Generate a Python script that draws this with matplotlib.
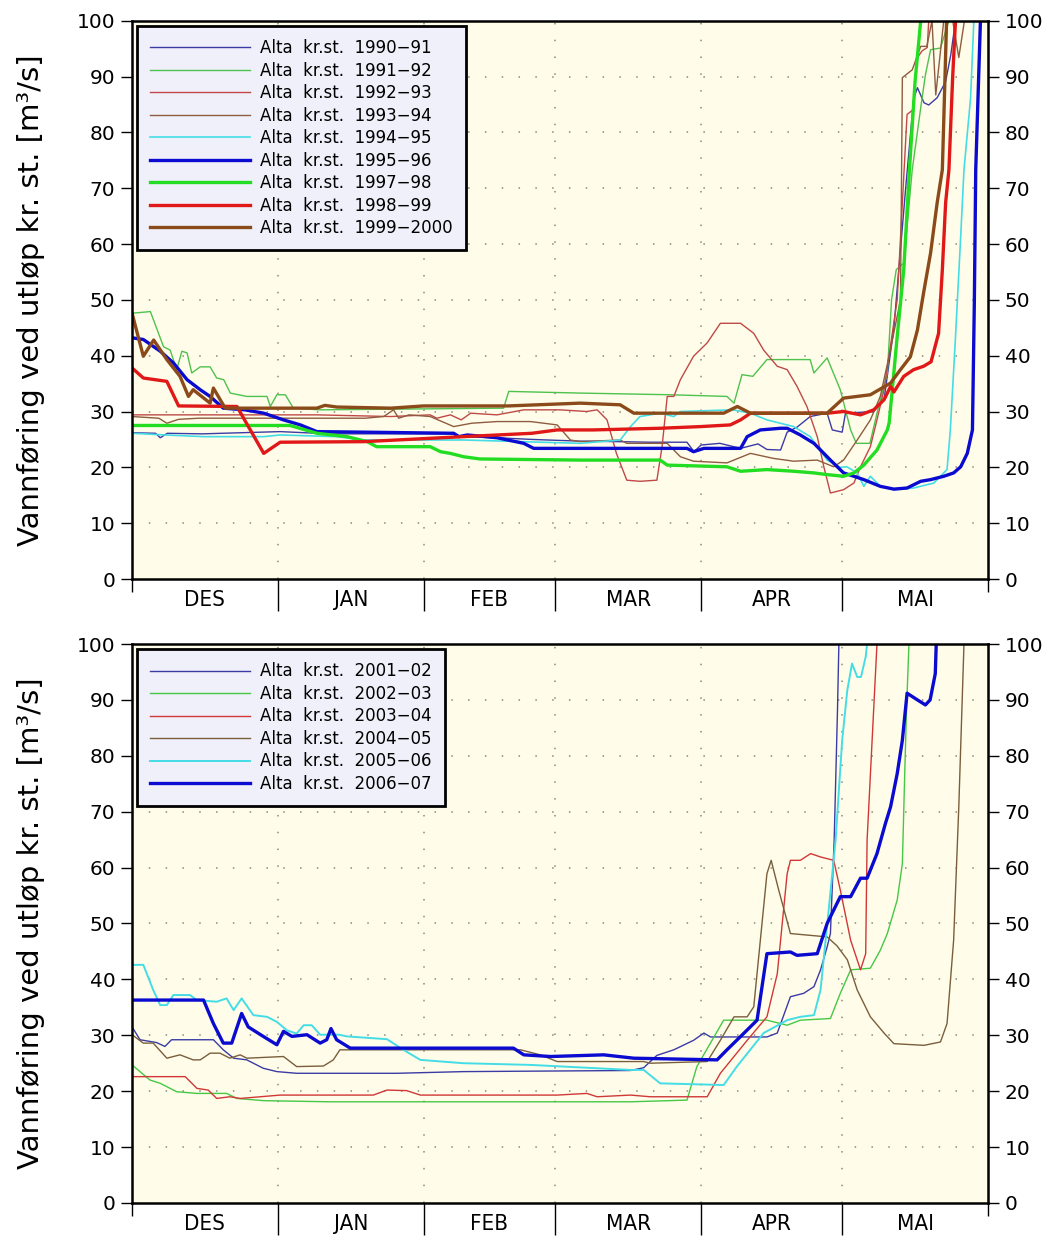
import numpy as np
import matplotlib.pyplot as plt
from matplotlib.ticker import FixedLocator, NullFormatter

# days counted from 1 December, 182 days to 1 June
month_edges = [0, 31, 62, 90, 121, 151, 182]
month_names = ["DES", "JAN", "FEB", "MAR", "APR", "MAI"]
yticks = [0, 10, 20, 30, 40, 50, 60, 70, 80, 90, 100]
ylabel = "Vannføring ved utløp kr. st. [m³/s]"

# ---- upper panel: 1990-2000 ----
d9091 = [0, 5, 6, 7.5, 15, 31.5, 42, 68.4, 70, 77.6, 85, 95, 103.8, 110, 118, 119.5, 121, 125, 129.4, 133.1,
         135, 137.9, 139.3, 141.4, 144.2, 147.8, 148.9, 151, 151.7, 157.7, 159.9, 162, 164.5, 166.2, 167,
         168.4, 169.4, 171.2, 173, 174.1, 175.1]
v9091 = [26.2, 26.1, 25.3, 26.1, 26.0, 26.4, 26.0, 26.0, 25.5, 25.3, 25.0, 24.7, 24.6, 24.5, 24.5, 22.8, 24.0,
         24.3, 23.4, 24.2, 23.2, 23.1, 26.3, 27.2, 29.1, 29.7, 26.7, 26.3, 29.7, 30.0, 32.1, 45, 70, 86, 88,
         85.3, 84.9, 86.2, 89.1, 93.9, 100]

d9192 = [0, 3.9, 6.7, 8.1, 9.5, 10.6, 11.7, 12.7, 14.5, 16.6, 18, 19.5, 20.9, 24.4, 28.7, 29.4, 30.8, 32.6,
         34.3, 40, 79, 80.1, 95.3, 114.5, 126.5, 128, 129.7, 132, 135, 144.2, 145, 147.8, 150.6, 152.8, 154,
         156.9, 158.4, 160.6, 161.5, 162.5, 164.1, 165.9, 167.7, 168.7, 169.8, 171.9, 173.7]
v9192 = [47.6, 47.9, 41.6, 41.0, 37.5, 40.8, 40.5, 36.9, 38.0, 38.0, 36.0, 35.7, 33.3, 32.7, 32.7, 30.9, 33.0,
         33.0, 30.6, 30.3, 30.6, 33.6, 33.3, 33.0, 32.7, 31.5, 36.6, 36.3, 39.3, 39.3, 36.9, 39.6, 33.9, 26.7,
         24.3, 24.3, 29.7, 36.9, 50, 55.4, 56.6, 73.3, 84.4, 90.3, 94.8, 95.1, 100]

d9293 = [0, 39.3, 55, 63.4, 64.8, 67.7, 70, 72, 77.6, 83.3, 91, 96.7, 98.9, 101, 103, 105.2, 108, 111.6, 112.7,
         113.8, 115.2, 116.6, 119.4, 122.3, 125.1, 129.4, 132.2, 134.3, 137.2, 139.3, 141.4, 143.5, 145.7,
         147.1, 148.5, 151.3, 153.5, 154.9, 157, 158.4, 159.9, 162.7, 164.8, 166, 167, 168, 169.1, 169.4]
v9293 = [29.4, 29.4, 29.1, 29.4, 28.8, 29.4, 28.5, 29.7, 29.4, 30.3, 30.3, 30.0, 30.3, 28.5, 22.5, 17.7, 17.5,
         17.7, 23.7, 32.7, 32.7, 35.7, 39.9, 42.3, 45.8, 45.8, 44.0, 41.0, 38.1, 37.5, 34.5, 30.9, 25.5, 20.1,
         15.4, 16.0, 17.2, 20.1, 23.7, 28.5, 33.9, 50, 83.2, 84, 93.4, 94.6, 95.2, 100]

d9394 = [0, 5.7, 7.4, 9.9, 14.2, 49.6, 53.5, 55.6, 56.7, 58.9, 63.4, 68.4, 72.2, 77.6, 84.7, 90.4, 93.2, 95.3,
         103.8, 105.2, 113.8, 116.6, 119.4, 126.5, 131.5, 136.4, 140.7, 145.7, 149.2, 151.3, 154.2, 157, 159.1,
         161, 163.4, 163.8, 165.9, 167.7, 169, 170.1, 170.9, 172.6, 174.5, 175.8, 177]
v9394 = [29.1, 28.8, 27.9, 28.6, 28.8, 28.8, 29.1, 30.3, 28.8, 29.4, 29.1, 27.3, 27.9, 28.2, 28.2, 27.6, 24.9,
         24.6, 24.9, 24.3, 24.3, 21.9, 21.1, 20.8, 22.5, 21.6, 21.1, 21.3, 20.1, 21.3, 24.9, 28.5, 32.7, 40, 50,
         89.8, 91.2, 95.4, 95.4, 100, 86.7, 100, 100, 93.4, 100]

d9495 = [0, 7, 15.2, 28, 31.5, 43.5, 49.2, 70.5, 95.3, 103.8, 106, 108, 112.3, 115.2, 116.6, 127.8, 131.5, 135,
         140.7, 144.2, 147.8, 150.6, 152, 154.2, 155.6, 157, 159.1, 162, 166.2, 170.5, 173.3, 174, 175.1, 176.2,
         176.9, 178.3, 179]
v9495 = [26.1, 25.8, 25.5, 25.5, 25.8, 25.5, 24.9, 24.9, 24.3, 24.9, 27.3, 29.1, 29.7, 29.1, 30.0, 30.3, 29.7,
         28.5, 27.3, 25.5, 21.3, 20.0, 20.1, 19.0, 16.6, 18.4, 16.6, 16.0, 16.3, 17.2, 19.6, 26.7, 43.4, 61.3,
         73.3, 86.1, 100]

d9596 = [0, 2.4, 6, 8.8, 11.7, 14.5, 16.6, 19.4, 24, 28, 32.2, 35.8, 39.3, 49.6, 68.4, 69.5, 71.3, 77.6, 83.3,
         85.4, 95.3, 118, 119.4, 121.6, 129.4, 130.8, 133.6, 137.9, 139.3, 142.1, 145, 148.5, 151.3, 153.5,
         155.6, 159.1, 162, 164.8, 167.7, 169.8, 172.6, 174.7, 176.2, 177.6, 178.7, 179.1, 179.4, 180.4]
v9596 = [43.2, 42.9, 40.8, 38.7, 35.7, 33.9, 32.7, 30.6, 30.3, 29.7, 28.5, 27.6, 26.4, 26.3, 26.1, 25.5, 25.8,
         25.3, 24.3, 23.4, 23.4, 23.4, 22.8, 23.4, 23.4, 25.5, 26.7, 27.0, 27.0, 25.8, 24.3, 21.3, 19.0, 18.4,
         17.8, 16.6, 16.1, 16.3, 17.5, 17.8, 18.4, 19.0, 20.1, 22.5, 26.7, 49.4, 73.3, 100]

d9798 = [0, 33.6, 39.3, 45.7, 50, 52, 63.4, 65.6, 67.7, 70.5, 74, 95.3, 112.3, 113.8, 126.5, 129.4, 135, 140.7,
         145, 147.8, 151.3, 153.5, 155.6, 158.4, 160.6, 161, 162.7, 164.1, 165.3, 166.5, 167.7]
v9798 = [27.5, 27.5, 26.1, 25.5, 24.6, 23.7, 23.7, 22.8, 22.5, 21.9, 21.5, 21.3, 21.3, 20.4, 20.1, 19.3, 19.6,
         19.3, 19.0, 18.7, 18.4, 19.0, 20.4, 23.1, 26.7, 28, 43.4, 55.4, 73.3, 89.1, 100]

d9899 = [0, 2.4, 7.4, 9.9, 22.3, 28, 31.5, 49.2, 70.5, 85, 90.4, 98, 112.3, 120.9, 127.2, 129.4, 131.5, 147.8,
         151.3, 154.9, 157.7, 159.9, 161.3, 162, 164.1, 166.2, 168.3, 169.9, 171.5, 172.3, 173, 173.7, 174.5,
         175.1]
v9899 = [37.8, 36.0, 35.4, 31.0, 30.9, 22.5, 24.5, 24.6, 25.5, 26.1, 26.7, 26.7, 27.0, 27.3, 27.6, 28.5, 29.7,
         29.7, 30.0, 29.4, 30.3, 32.1, 34.5, 33.5, 36.3, 37.5, 38.1, 38.9, 44.0, 55.4, 67.4, 73.3, 90, 100]

d9900 = [0, 2.4, 4.6, 7.4, 10.2, 12, 13, 16.6, 17.3, 19.8, 39.3, 41, 43.6, 55, 62, 80, 95.3, 103.8, 106.7,
         125.8, 128.7, 131.5, 147.8, 151.3, 157, 161.3, 163.4, 165.5, 167, 168.3, 169.8, 171.2, 172.3, 172.6,
         173.2]
v9900 = [47.6, 39.9, 42.8, 39.3, 36.3, 32.7, 33.9, 31.5, 34.2, 30.6, 30.6, 31.1, 30.8, 30.6, 31.0, 31.0, 31.5,
         31.2, 29.7, 29.7, 30.9, 29.7, 29.7, 32.4, 33.0, 35.1, 37.5, 39.8, 44.6, 51.2, 58.4, 67.4, 73.3, 82, 100]

# ---- lower panel: 2001-2007 ----
d0102 = [0, 1.7, 5.2, 7, 8.4, 17.3, 19.4, 21.6, 24.4, 27.9, 30.8, 35, 56.3, 70.5, 106, 108.8, 111.6, 115.2,
         119.4, 121.6, 123, 135, 137.2, 140, 142.8, 145, 146.4, 147.8, 148.5, 149.3, 150, 150.3]
v0102 = [31.5, 29.2, 28.7, 28.0, 29.2, 29.2, 27.4, 25.9, 25.6, 24.1, 23.5, 23.2, 23.2, 23.5, 23.7, 24.2, 26.4,
         27.4, 29.1, 30.4, 29.7, 29.7, 30.4, 36.9, 37.5, 38.7, 41.7, 45.8, 48.2, 65, 88, 100]

d0203 = [0, 3.8, 6, 9.5, 13.8, 20.1, 22.3, 28, 42.1, 106, 118, 120.1, 125.8, 135, 139.3, 142.1, 148.5, 150.6,
         152.8, 157, 159.1, 160.6, 162.7, 163.8, 164.3, 164.7, 165.2]
v0203 = [24.7, 22.0, 21.4, 19.9, 19.6, 19.6, 18.7, 18.3, 18.1, 18.1, 18.4, 24.4, 32.7, 32.7, 31.8, 32.7, 33.0,
         37.5, 41.7, 42.0, 45.2, 48.2, 54.2, 60.7, 76.8, 88.8, 100]

d0304 = [0, 11.3, 13.8, 16.2, 18, 20.8, 23, 31.5, 51.3, 54.2, 58.4, 61.3, 90.4, 96.7, 98.9, 106, 110.2, 122.3,
         125.1, 130.8, 135, 137.2, 139.3, 140, 142.1, 144.3, 146.4, 149.2, 150.6, 152.8, 154.9, 156, 156.3,
         157.5, 158.4]
v0304 = [22.6, 22.6, 20.5, 20.2, 18.7, 19.0, 18.7, 19.3, 19.3, 20.2, 20.1, 19.3, 19.3, 19.6, 19.0, 19.3, 19.0,
         19.0, 23.2, 29.1, 33.3, 41.0, 58.9, 61.3, 61.3, 62.5, 61.9, 61.3, 56.0, 47.0, 41.7, 44.6, 64.9, 85, 100]

d0405 = [0, 2.4, 4.5, 7.4, 10.2, 13, 14.5, 16.6, 18.7, 20.8, 23, 24.4, 32.2, 35, 40.7, 42.8, 44.2, 82.6, 86.8,
         90.4, 108.8, 110.2, 122.3, 125.1, 128, 130.8, 132.2, 135, 135.9, 137.5, 140, 147.8, 149.9, 152.1, 154.2,
         157, 159.9, 162, 168.4, 171.9, 173.3, 174.7, 175.8, 176.9]
v0405 = [30.1, 28.6, 28.6, 25.9, 26.5, 25.6, 25.6, 26.8, 26.8, 25.9, 26.5, 25.9, 26.2, 24.4, 24.5, 25.6, 27.4,
         27.4, 26.5, 25.3, 25.3, 25.0, 25.3, 29.1, 33.3, 33.3, 35.1, 58.9, 61.3, 56.0, 48.2, 47.6, 46.0, 43.5,
         38.1, 33.3, 30.4, 28.5, 28.2, 28.8, 32.1, 47.0, 70.9, 100]

d0506 = [0, 2.4, 4.5, 6, 7.4, 8.8, 12.3, 13.8, 18, 20.1, 21.6, 23.3, 25.8, 28.7, 30.8, 32.9, 35, 36.5, 38.2,
         40, 44, 45.7, 54.2, 57.7, 61.3, 70.5, 84.7, 91.8, 106, 108.8, 112.3, 125.8, 128.6, 134.3, 139.3, 142.1,
         145, 146.4, 148.2, 149.6, 151, 152.1, 153.1, 154.2, 155, 156, 156.3]
v0506 = [42.6, 42.6, 38.1, 35.4, 35.4, 37.2, 37.2, 36.3, 36.0, 36.6, 34.5, 36.6, 33.6, 33.3, 32.4, 30.9, 30.3,
         31.8, 31.8, 30.1, 30.1, 29.8, 29.3, 27.4, 25.6, 25.0, 24.7, 24.4, 23.8, 23.8, 21.4, 21.1, 24.4, 30.4,
         32.7, 33.3, 33.6, 38.1, 53.0, 64.9, 82.8, 91.8, 96.5, 94.1, 94.1, 97.7, 100]

d0607 = [0, 15.2, 17.3, 19.4, 21.2, 23.3, 24.7, 27.9, 30.8, 32.2, 34, 37.2, 40, 41.4, 42.3, 43.5, 46.4, 81.1,
         83.3, 89, 100.3, 106.7, 124.4, 126.5, 129.3, 132.9, 135, 140, 141.4, 145.7, 147.8, 150.6, 152.8, 154.9,
         156.3, 158.4, 160.2, 161.3, 162.7, 163.8, 164.8, 167, 168.7, 169.7, 170.8, 171]
v0607 = [36.3, 36.3, 32.1, 28.6, 28.6, 33.9, 31.5, 29.8, 28.3, 30.7, 29.8, 30.1, 28.6, 29.2, 31.2, 29.2, 27.7,
         27.7, 26.5, 26.2, 26.5, 25.9, 25.6, 27.4, 29.7, 32.7, 44.6, 44.9, 44.3, 44.6, 50.0, 54.8, 54.8, 58.1,
         58.1, 62.5, 67.9, 70.9, 76.8, 82.8, 91.2, 90.0, 89.1, 90.0, 94.7, 100]

# label, days, values, colour, linewidth
top_series = [
    ("Alta  kr.st.  1990−91", d9091, v9091, "#3b3ba6", 1.0),
    ("Alta  kr.st.  1991−92", d9192, v9192, "#4ec24e", 1.0),
    ("Alta  kr.st.  1992−93", d9293, v9293, "#c04848", 1.0),
    ("Alta  kr.st.  1993−94", d9394, v9394, "#8e5c40", 1.0),
    ("Alta  kr.st.  1994−95", d9495, v9495, "#44dde6", 1.2),
    ("Alta  kr.st.  1995−96", d9596, v9596, "#0a0ad0", 2.4),
    ("Alta  kr.st.  1997−98", d9798, v9798, "#22dd22", 2.4),
    ("Alta  kr.st.  1998−99", d9899, v9899, "#e01818", 2.4),
    ("Alta  kr.st.  1999−2000", d9900, v9900, "#8b4a1a", 2.4),
]
bottom_series = [
    ("Alta  kr.st.  2001−02", d0102, v0102, "#3b3ba6", 1.0),
    ("Alta  kr.st.  2002−03", d0203, v0203, "#46c846", 1.0),
    ("Alta  kr.st.  2003−04", d0304, v0304, "#d03838", 1.0),
    ("Alta  kr.st.  2004−05", d0405, v0405, "#7a5e3c", 1.0),
    ("Alta  kr.st.  2005−06", d0506, v0506, "#44dde6", 1.4),
    ("Alta  kr.st.  2006−07", d0607, v0607, "#0a0ad0", 2.4),
]


def setup_axes(ax):
    ax.set_facecolor("#fffde9")
    ax.set_xlim(0, 182)
    ax.set_ylim(0, 100)
    for sp in ax.spines.values():
        sp.set_linewidth(1.8)
    # dotted grid
    for y in yticks[1:-1]:
        ax.axhline(y, color="#8a8a80", lw=1.1, linestyle=(0, (1, 10)), zorder=0)
    for x in month_edges[1:-1]:
        ax.axvline(x, color="#8a8a80", lw=1.1, linestyle=(0, (1, 10)), zorder=0)
    ax.set_yticks(yticks)
    ax.tick_params(axis="y", direction="out", length=8, width=1.0, labelsize=14.5,
                   left=True, right=True, labelleft=True, labelright=True, pad=4)
    # month separators and labels
    ax.xaxis.set_major_locator(FixedLocator(month_edges[1:-1]))
    ax.xaxis.set_major_formatter(NullFormatter())
    centers = [(a + b) / 2 for a, b in zip(month_edges[:-1], month_edges[1:])]
    ax.xaxis.set_minor_locator(FixedLocator(centers))
    ax.set_xticklabels(month_names, minor=True, family="DejaVu Sans", fontstretch="condensed",
                       fontsize=16)
    ax.tick_params(axis="x", which="major", direction="out", length=23, width=1.0)
    ax.tick_params(axis="x", which="minor", length=0, pad=8)
    sec = ax.secondary_xaxis("bottom")
    sec.set_xticks([month_edges[0], month_edges[-1]])
    sec.set_xticklabels(["", ""])
    sec.tick_params(direction="out", length=9, width=1.0)
    sec.spines["bottom"].set_visible(False)
    ax.set_ylabel(ylabel, fontsize=21)
    ax.yaxis.set_label_coords(-0.102, 0.5)


def draw(ax, series):
    for label, d, v, color, lw in series:
        ax.plot(d, v, color=color, lw=lw, label=label, solid_joinstyle="round")
    leg = ax.legend(loc="upper left", fontsize=12, handlelength=6.0, handletextpad=0.6,
                    labelspacing=0.27, borderpad=0.8, borderaxespad=0.3, fancybox=False,
                    framealpha=1.0, facecolor="#f0f0fa", edgecolor="black")
    leg.get_frame().set_linewidth(2.0)


fig = plt.figure(figsize=(10.58, 12.38), dpi=100)
ax1 = fig.add_axes([0.1248, 0.5323, 0.809, 0.451])
ax2 = fig.add_axes([0.1248, 0.0283, 0.809, 0.4515])

for ax, series in ((ax1, top_series), (ax2, bottom_series)):
    setup_axes(ax)
    draw(ax, series)

fig.savefig("out.png", dpi=100)
